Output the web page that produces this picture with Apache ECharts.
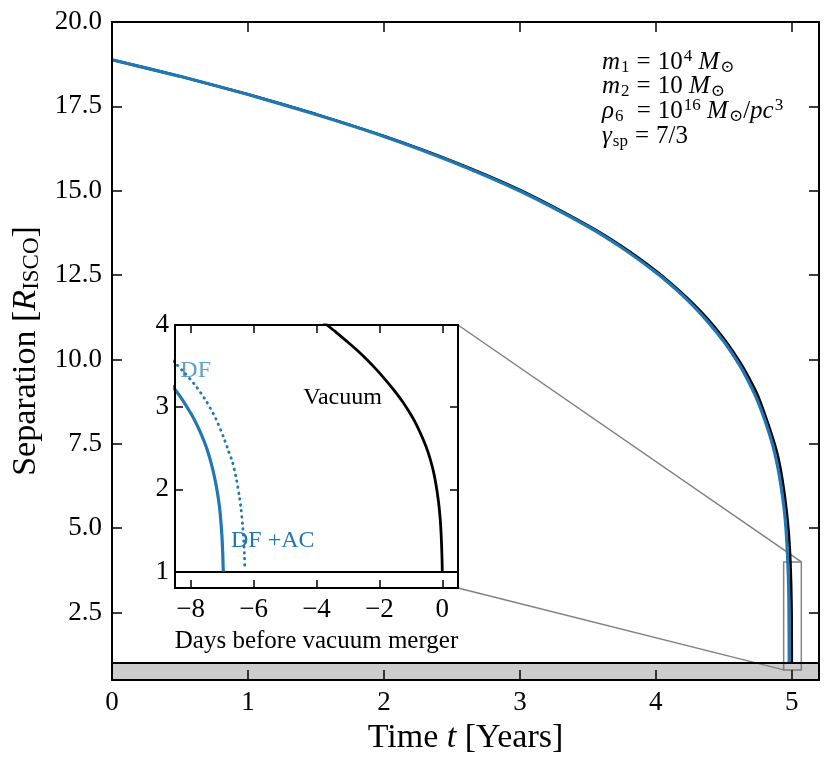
<!DOCTYPE html>
<html>
<head>
<meta charset="utf-8">
<script src="https://cdn.jsdelivr.net/npm/echarts@6/dist/echarts.min.js"></script>
<style>
  html, body { margin: 0; padding: 0; background: #fff; }
  #chart { width: 830px; height: 771px; }
</style>
</head>
<body>
<div id="chart"></div>
<script>
// main panel: time in years, separation in R_ISCO
const mainTime = [0, 0.5, 1, 1.5, 2, 2.5, 3, 3.5, 3.75, 4, 4.125, 4.25, 4.375, 4.5, 4.575, 4.65, 4.75, 4.85, 4.9, 4.94, 4.97, 4.985, 4.995, 4.999, 5.0];
const vacuumSep = [18.88, 18.39, 17.86, 17.27, 16.62, 15.88, 15.02, 13.97, 13.35, 12.63, 12.21, 11.75, 11.23, 10.62, 10.19, 9.71, 8.93, 7.80, 7.10, 6.20, 5.20, 4.40, 3.36, 2.4, 1.0];
const dfacTime = [0, 0.5, 1, 1.5, 2, 2.5, 3, 3.5, 3.75, 4, 4.125, 4.25, 4.375, 4.5, 4.575, 4.65, 4.75, 4.85, 4.9, 4.94, 4.96, 4.975, 4.979, 4.981];
const dfacSep = [18.88, 18.39, 17.85, 17.26, 16.61, 15.86, 14.99, 13.94, 13.31, 12.58, 12.16, 11.69, 11.15, 10.53, 10.09, 9.59, 8.76, 7.60, 6.74, 5.69, 4.81, 3.52, 2.6, 1.0];

// inset: days before vacuum merger
const insetVacDays = [-4.0, -3.7, -3.4, -3.0, -2.7, -2.4, -2.1, -1.8, -1.5, -1.25, -1.0, -0.8, -0.6, -0.45, -0.3, -0.2, -0.12, -0.07, -0.04, -0.02, -0.007, 0];
const insetVacSep = [4.10, 4.01, 3.92, 3.79, 3.69, 3.58, 3.46, 3.33, 3.19, 3.06, 2.91, 2.77, 2.60, 2.45, 2.25, 2.06, 1.85, 1.66, 1.48, 1.30, 1.14, 1.0];
const insetDfacDays = [-8.7, -8.53, -8.3, -8.1, -7.9, -7.7, -7.5, -7.35, -7.25, -7.15, -7.08, -7.03, -7.0, -6.98, -6.965];
const insetDfacSep = [3.31, 3.23, 3.11, 2.99, 2.86, 2.70, 2.51, 2.32, 2.16, 1.96, 1.77, 1.56, 1.38, 1.2, 1.0];
const insetDfDays = [-8.7, -8.5, -8.2, -7.84, -7.5, -7.2, -6.95, -6.8, -6.67, -6.55, -6.46, -6.4, -6.35, -6.31, -6.29, -6.28];
const insetDfSep = [3.61, 3.54, 3.42, 3.26, 3.07, 2.86, 2.63, 2.47, 2.33, 2.13, 1.93, 1.76, 1.57, 1.35, 1.18, 1.04];

// ticks
const mainXTicks = [0, 1, 2, 3, 4, 5];
const mainYTicks = [2.5, 5, 7.5, 10, 12.5, 15, 17.5, 20];
const insetXTicks = [-8, -6, -4, -2, 0];
const insetYTicks = [1, 2, 3, 4];

// zoomed region marked on the main panel
const zoomBox = [[4.94, 0.8], [5.07, 4.0]];

const FONT = "'Liberation Serif', 'DejaVu Serif', serif";
const BLUE = '#1f77b4';

function zip(xs, ys) {
    return xs.map((x, i) => [x, ys[i]]);
}
function minus(v) {
    return v < 0 ? '\u2212' + (-v) : String(v);
}

function makeAxis(grid, pos, min, max, ticks, tickLen, showLabel, labelFmt, margin) {
    return {
        type: 'value', gridIndex: grid, position: pos, min: min, max: max, z: 10,
        axisLine: { show: true, onZero: false, lineStyle: { color: '#000', width: 2 } },
        axisTick: { show: true, inside: true, length: tickLen, customValues: ticks,
                    lineStyle: { color: '#000', width: 1.5 } },
        axisLabel: { show: showLabel, customValues: ticks, formatter: labelFmt, margin: margin,
                     fontFamily: FONT, fontSize: 27, color: '#000' },
        splitLine: { show: false }
    };
}

let chart = echarts.init(document.getElementById('chart'));

let xMain = makeAxis(0, 'bottom', 0, 5.2, mainXTicks, 10, true, v => String(v), 9);
xMain.name = 'Time {it|t} [Years]';
xMain.nameLocation = 'middle';
xMain.nameGap = 40;
xMain.nameTextStyle = { fontFamily: FONT, fontSize: 34, color: '#000',
    rich: { it: { fontFamily: FONT, fontSize: 34, fontStyle: 'italic', color: '#000' } } };

let yMain = makeAxis(0, 'left', 0.5, 20, mainYTicks, 10, true, v => v.toFixed(1), 10);
yMain.name = 'Separation [{it|R}{sub|ISCO}]';
yMain.nameLocation = 'middle';
yMain.nameGap = 63;
yMain.nameTextStyle = { fontFamily: FONT, fontSize: 34, color: '#000',
    rich: {
        it: { fontFamily: FONT, fontSize: 34, fontStyle: 'italic', color: '#000' },
        sub: { fontFamily: FONT, fontSize: 23, color: '#000', verticalAlign: 'bottom', padding: [12, 0, 0, 0] }
    } };

let xInset = makeAxis(1, 'bottom', -8.5, 0.5, insetXTicks, 8, true, minus, 8);
xInset.name = 'Days before vacuum merger';
xInset.nameLocation = 'middle';
xInset.nameGap = 41;
xInset.nameTextStyle = { fontFamily: FONT, fontSize: 25, color: '#000' };

let option = {
    animation: false,
    backgroundColor: '#fff',
    grid: [
        { left: 112, top: 22, width: 707, height: 658 },
        { left: 175, top: 325, width: 283, height: 263, show: true, backgroundColor: '#fff', borderWidth: 0, z: 3 }
    ],
    xAxis: [
        xMain,
        makeAxis(0, 'top', 0, 5.2, mainXTicks, 10, false),
        xInset,
        makeAxis(1, 'top', -8.5, 0.5, insetXTicks, 8, false)
    ],
    yAxis: [
        yMain,
        makeAxis(0, 'right', 0.5, 20, mainYTicks, 10, false),
        makeAxis(1, 'left', 0.8, 4, insetYTicks, 8, true, v => String(v), 6),
        makeAxis(1, 'right', 0.8, 4, insetYTicks, 8, false)
    ],
    series: [{
        name: 'Vacuum', type: 'line', xAxisIndex: 0, yAxisIndex: 0,
        data: zip(mainTime, vacuumSep), showSymbol: false, smooth: 0.2, clip: true,
        lineStyle: { color: '#000', width: 2.6 },
        markArea: {
            silent: true,
            data: [
                [{ yAxis: 0.5, itemStyle: { color: '#cccccc' } }, { yAxis: 1 }],
                [{ coord: zoomBox[0], itemStyle: { color: 'rgba(0,0,0,0)', borderColor: 'rgba(110,110,110,0.85)', borderWidth: 1.5 } },
                 { coord: zoomBox[1] }]
            ]
        },
        markLine: {
            silent: true, symbol: ['none', 'none'], label: { show: false },
            lineStyle: { color: '#000', width: 2, type: 'solid' },
            data: [{ yAxis: 1 }]
        }
    }, {
        name: 'DF +AC', type: 'line', xAxisIndex: 0, yAxisIndex: 0,
        data: zip(dfacTime, dfacSep), showSymbol: false, smooth: 0.2, clip: true,
        lineStyle: { color: BLUE, width: 3.2 }
    }, {
        name: 'Vacuum inset', type: 'line', xAxisIndex: 2, yAxisIndex: 2, z: 5,
        data: zip(insetVacDays, insetVacSep), showSymbol: false, smooth: 0.2, clip: true,
        lineStyle: { color: '#000', width: 2.8 },
        markArea: {
            silent: true,
            data: [[{ yAxis: 0.8, itemStyle: { color: '#cccccc' } }, { yAxis: 1 }]]
        },
        markLine: {
            silent: true, symbol: ['none', 'none'], label: { show: false },
            lineStyle: { color: '#000', width: 2.2, type: 'solid' },
            data: [{ yAxis: 1 }]
        }
    }, {
        name: 'DF +AC inset', type: 'line', xAxisIndex: 2, yAxisIndex: 2, z: 5,
        data: zip(insetDfacDays, insetDfacSep), showSymbol: false, smooth: 0.2, clip: true,
        lineStyle: { color: BLUE, width: 3.2 }
    }, {
        name: 'DF inset', type: 'line', xAxisIndex: 2, yAxisIndex: 2, z: 5,
        data: zip(insetDfDays, insetDfSep), showSymbol: false, smooth: 0.2, clip: true,
        lineStyle: { color: BLUE, width: 2.8, type: [0.5, 5.5], cap: 'round' }
    }]
};
chart.setOption(option);

// connectors, labels and the parameter box
const mainPx = v => chart.convertToPixel({ xAxisIndex: 0, yAxisIndex: 0 }, v);
const insetPx = v => chart.convertToPixel({ xAxisIndex: 2, yAxisIndex: 2 }, v);
const a1 = insetPx([0.5, 4]), b1 = mainPx([zoomBox[1][0], zoomBox[1][1]]);
const a2 = insetPx([0.5, 0.8]), b2 = mainPx([zoomBox[0][0], zoomBox[0][1]]);

const mathRich = {
    n: { fontFamily: FONT, fontSize: 25, color: '#000' },
    it: { fontFamily: FONT, fontSize: 25, fontStyle: 'italic', color: '#000' },
    eq: { fontFamily: FONT, fontSize: 25, color: '#000', padding: [0, 7, 0, 7] },
    sub: { fontFamily: FONT, fontSize: 17, color: '#000', verticalAlign: 'bottom', padding: [11, 0, 0, 1] },
    sup: { fontFamily: FONT, fontSize: 17, color: '#000', verticalAlign: 'top', padding: [0, 0, 11, 1] }
};
function mathText(x, y, text) {
    return { type: 'text', x: x, y: y, z: 20,
             style: { text: text, rich: mathRich, fontFamily: FONT, fontSize: 25, fill: '#000', verticalAlign: 'middle' } };
}
function labelText(pos, text, color, align) {
    return { type: 'text', x: pos[0], y: pos[1], z: 20,
             style: { text: text, fontFamily: FONT, fontSize: 24, fill: color, align: align, verticalAlign: 'middle' } };
}

chart.setOption({
    graphic: [
        { type: 'line', z: 1, shape: { x1: a1[0], y1: a1[1], x2: b1[0], y2: b1[1] },
          style: { stroke: '#808080', lineWidth: 1.5 } },
        { type: 'line', z: 1, shape: { x1: a2[0], y1: a2[1], x2: b2[0], y2: b2[1] },
          style: { stroke: '#808080', lineWidth: 1.5 } },
        labelText(insetPx([-8.33, 3.44]), 'DF', 'rgba(31,119,180,0.7)', 'left'),
        labelText(insetPx([-3.17, 3.12]), 'Vacuum', '#000', 'center'),
        labelText(insetPx([-6.72, 1.37]), 'DF +AC', BLUE, 'left'),
        mathText(602, 62, '{it|m}{sub|1}{eq|=}10{sup|4} {it|M}{sub|\u2299}'),
        mathText(602, 86, '{it|m}{sub|2}{eq|=}10 {it|M}{sub|\u2299}'),
        mathText(602, 111, '{it|\u03c1}{sub|6} {eq|=}10{sup|16} {it|M}{sub|\u2299}/{it|pc}{sup|3}'),
        mathText(602, 136, '{it|\u03b3}{sub|sp}{eq|=}7/3')
    ]
});
</script>
</body>
</html>
